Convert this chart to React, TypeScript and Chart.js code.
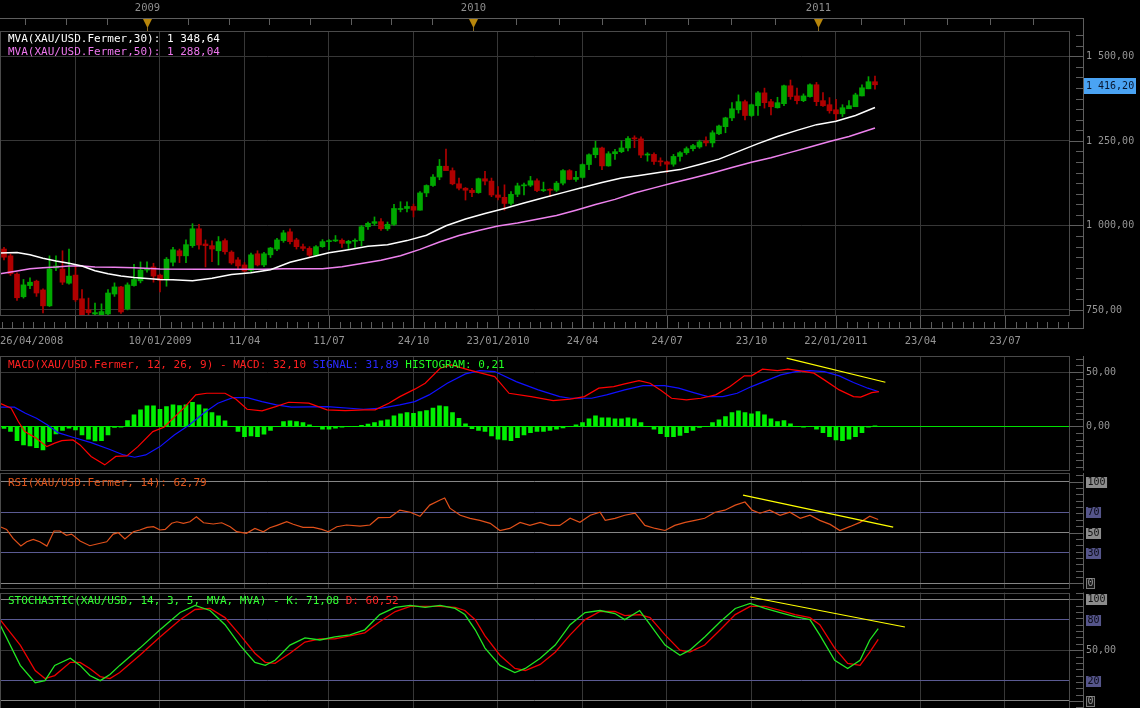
import React, { useEffect, useRef } from "react";
import { Chart, registerables } from "chart.js";

Chart.register(...registerables);

// ---------------- DATA (weekly XAU/USD candles, index 0 = first visible week) ----------------
const OPEN = [930,910,856,789,822,835,809,762,874,871,829,853,783,750,738,736,738,797,818,753,822,836,868,877,853,841,891,925,910,940,990,945,940,925,955,921,898,883,867,916,883,913,930,955,981,957,937,932,912,937,952,954,956,947,953,955,996,1006,1011,990,1003,1047,1050,1056,1045,1096,1118,1143,1175,1162,1123,1110,1104,1097,1138,1131,1090,1083,1065,1092,1117,1119,1132,1103,1105,1104,1125,1162,1136,1142,1180,1209,1229,1176,1212,1218,1229,1257,1256,1208,1210,1189,1188,1181,1204,1215,1227,1232,1250,1244,1271,1292,1318,1342,1366,1325,1354,1392,1366,1348,1360,1413,1383,1369,1381,1416,1369,1357,1342,1330,1345,1351,1383,1404,1425];
const HIGH = [935,915,860,840,845,838,812,910,910,925,930,880,810,785,770,768,810,830,820,830,885,892,892,888,856,905,935,930,957,1005,1003,957,954,967,960,925,905,890,918,925,920,935,962,985,990,962,945,937,940,958,958,970,960,956,960,1000,1010,1025,1020,1010,1062,1070,1070,1063,1100,1120,1150,1195,1226,1170,1140,1112,1110,1140,1160,1140,1115,1120,1100,1125,1125,1145,1138,1128,1108,1130,1165,1165,1160,1182,1212,1249,1232,1218,1225,1250,1263,1265,1262,1215,1215,1200,1190,1210,1218,1232,1240,1252,1262,1280,1297,1320,1363,1386,1371,1359,1396,1406,1373,1379,1415,1430,1406,1389,1419,1423,1393,1378,1373,1357,1369,1391,1416,1440,1442];
const LOW = [898,852,778,785,813,790,741,760,866,825,826,775,733,735,735,734,733,790,740,750,820,830,862,832,803,820,880,890,890,935,930,877,893,883,915,885,870,862,862,880,878,905,925,950,945,930,925,905,910,935,928,952,935,930,935,940,988,1000,985,985,1000,1040,1040,1025,1045,1085,1115,1135,1170,1120,1105,1075,1085,1095,1120,1085,1075,1045,1060,1085,1090,1115,1100,1100,1085,1100,1120,1135,1130,1140,1165,1200,1165,1175,1195,1215,1220,1230,1200,1190,1180,1176,1157,1175,1190,1210,1220,1228,1235,1232,1268,1274,1310,1332,1312,1322,1325,1347,1327,1347,1354,1373,1359,1366,1379,1354,1352,1332,1312,1322,1345,1352,1383,1404,1403];
const CLOSE = [906,857,786,824,832,800,762,871,880,832,850,780,735,742,742,745,800,818,744,824,840,868,872,850,838,900,928,910,943,990,942,940,930,952,922,889,880,865,913,883,916,933,957,978,952,937,932,912,937,952,954,956,947,953,955,996,1006,1011,990,1003,1050,1050,1056,1045,1096,1118,1143,1175,1162,1123,1110,1104,1097,1138,1131,1090,1083,1065,1092,1117,1119,1132,1103,1105,1104,1125,1162,1136,1142,1180,1209,1229,1176,1212,1218,1229,1257,1256,1208,1210,1189,1188,1181,1204,1215,1227,1236,1247,1244,1274,1294,1318,1345,1366,1325,1357,1392,1363,1351,1363,1413,1381,1369,1383,1416,1366,1354,1339,1330,1348,1354,1386,1407,1425,1416];

// moving averages: [week index, value]
const MVA30: number[][] = [[-0.6,918],[2,920],[4,913],[6,903],[8,895],[10,888],[12,880],[14,866],[16,857],[18,850],[20,846],[22,843],[24,840],[26,839],[29,836],[32,844],[35,855],[38,860],[41,869],[44,891],[47,905],[50,919],[53,928],[56,938],[59,943],[62,955],[65,971],[68,999],[71,1019],[74,1035],[77,1050],[80,1066],[83,1082],[86,1097],[89,1112],[92,1127],[95,1140],[98,1148],[101,1157],[104,1165],[107,1180],[110,1196],[113,1219],[116,1242],[119,1263],[122,1281],[125,1298],[128,1308],[131,1325],[134,1348.6]];
const MVA50: number[][] = [[-0.6,857],[2,865],[4,872],[6,875],[8,877],[10,880],[12,880],[14,877],[17,876],[20,875],[24,871],[30,870],[36,870],[40,870],[43,872],[46,872],[49,872],[52,878],[55,887],[58,897],[61,910],[64,929],[67,951],[70,970],[73,985],[76,998],[79,1007],[82,1018],[85,1029],[88,1045],[91,1062],[94,1077],[97,1096],[100,1111],[103,1126],[106,1140],[109,1155],[112,1171],[115,1187],[118,1200],[121,1216],[124,1232],[127,1248],[130,1263],[134,1288]];

// MACD panel
const MACD_LINE: number[][] = [[-0.6,21.2],[1.1,16.6],[2.2,4.3],[3.2,-5],[4.9,-11],[6.6,-18.9],[7.8,-15.7],[8.9,-13.3],[10.6,-12.7],[11.7,-17.3],[13.4,-28],[15.5,-35.8],[17.2,-28],[18.9,-27.5],[20.6,-18.9],[22.9,-5],[24.6,-1],[26.3,8.9],[27.8,17.6],[29.5,29],[31.2,30.5],[34,30.5],[35.7,25],[37.4,15.7],[39.7,14.2],[41.8,18.1],[43.8,22.2],[46.9,21.3],[49.7,15.1],[52.5,14.4],[55.4,15.1],[57.1,15.1],[59.2,21.3],[60.9,27.4],[63.2,34.3],[64.8,39.8],[67.1,53.7],[68.8,56.8],[71.5,52.1],[75.5,45.9],[77.7,30.5],[81.1,27.4],[84.5,23.7],[87.1,25],[89.3,27.4],[91.5,35.2],[93.8,36.7],[95.5,39.2],[97.7,42.2],[99.4,39.8],[101.1,33],[102.7,25.9],[105,24.4],[107.2,25.9],[109.5,29],[111.7,36.7],[113.9,46.6],[115,46.6],[116.7,52.8],[119,51.5],[120.6,52.8],[122.3,51.5],[124.6,49.1],[126.2,42.9],[128.5,33.6],[130.7,27.4],[131.8,26.9],[133.5,31.1],[134.6,32.1]];
const SIGNAL_LINE: number[][] = [[-0.6,17.6],[1.6,17.6],[3.3,12],[5,7.4],[6.7,1.2],[8.3,-5.9],[10.6,-10.2],[13.4,-15.2],[16.2,-21.3],[18.4,-26.6],[20.1,-28.7],[21.8,-26.6],[24,-18.9],[26.2,-8.1],[28.5,1.2],[30.7,12],[32.9,21.3],[35.2,26.5],[37.4,26.5],[39.7,22.8],[41.9,19.7],[44.2,17.6],[49.7,18.1],[55.3,15.7],[58.1,16.7],[60.9,19.7],[63.2,22.8],[65.4,29],[68.2,39.8],[71,48.4],[73.2,51.5],[75.5,50.6],[78.8,41.3],[82.2,33.6],[85.5,27.4],[87.1,25.9],[90.4,25.9],[92.7,29],[95.5,33.6],[98.3,37.6],[101.6,37.6],[103.8,35.2],[106.1,31.1],[108.3,27.4],[110.6,27.4],[112.8,30.5],[115,36.7],[117.3,42.2],[119.5,47.5],[121.8,50.6],[124,51.5],[126.2,50.6],[128.5,46.6],[130.7,40.4],[132.9,35.2],[134.6,31.9]];
const HISTOGRAM = [-2,-4.9,-13.3,-17.3,-18.2,-19.8,-21.9,-14.2,-7.1,-4,-1.9,-3.4,-8,-12,-13.6,-13.3,-8,-1.2,-0.9,5.2,10.5,15.1,18.8,18.8,15.7,18.2,19.8,19.1,19.8,22.2,19.8,16,12.7,9.6,4.9,0,-4.9,-9.6,-9,-9.6,-7.4,-4,-0.5,4.3,4.9,4.3,3.4,1.2,0,-2.8,-2.8,-1.9,-0.9,-0.5,-0.3,0.8,2,3.4,4.9,5.9,9.6,11.4,12.7,12,13.6,14.5,16.7,18.8,18.2,12.7,7.4,2.2,-2.2,-4,-4.9,-9,-12,-12.7,-13.3,-10.5,-8,-5.9,-4.9,-4.9,-4,-2.8,-1.5,-0.5,1.2,3.4,6.8,9.6,7.7,7.7,6.8,6.8,7.7,6.8,3.4,0,-2.8,-6.8,-9.6,-9.6,-8.6,-5.9,-4,-1.2,0,3.4,5.9,9,12.7,14.2,12.7,11.4,13.6,10.5,6.8,4.3,5.2,2.2,0,-0.9,0,-2.8,-5.9,-9.6,-12.7,-13.3,-12,-9.6,-5.9,-0.9,0.21];

// RSI panel
const RSI_LINE: number[][] = [[-0.6,55.7],[0.4,53.1],[1.4,44.3],[2.6,36.7],[3.5,40.9],[4.5,43.3],[5.5,40.9],[6.6,36.7],[7.7,51.5],[8.6,51.5],[9.6,47.2],[10.4,48.5],[11.7,41.6],[13.2,37],[14.8,39.4],[15.8,40.9],[16.8,48.5],[17.6,49.8],[18.6,43.6],[19.9,50.8],[20.9,52.5],[22,55.1],[23,55.7],[24,52.5],[24.8,53.1],[25.8,59.1],[26.6,60.6],[27.6,59.1],[28.6,60.6],[29.6,65.6],[30.7,59.6],[32.2,58.4],[33.5,59.6],[34.8,55.7],[35.8,50.8],[37.3,49.2],[38.6,54.1],[39.9,50.8],[40.9,54.7],[42,57.1],[43.5,60.6],[44.5,58.1],[46,55.1],[47.6,55.1],[48.9,53.1],[49.9,50.8],[51.2,55.7],[52.7,57.4],[54.8,56.4],[56.3,57.4],[57.6,64.6],[59.4,65],[60.9,72.1],[62.5,70],[64,66],[65.5,77],[67.1,82],[67.8,84],[68.6,74],[70.2,67],[71.7,64],[73.2,62],[74.8,59],[76.3,52],[77.8,54],[79.4,60],[80.9,57],[82.5,60],[84,57],[85.5,57],[87.1,64],[88.6,60],[90.2,67],[91.7,70],[92.5,62],[94,64],[95.5,67],[97.1,69],[98.6,57],[100.2,54],[101.7,52],[103.2,57],[104.8,60],[106.3,62],[107.8,64],[109.4,70],[110.9,72],[112.5,77],[114,80],[115.1,72],[116.3,69],[117.8,72],[119.4,67],[120.9,70],[122.5,64],[124,67],[125.5,62],[127.1,58],[128.6,52],[130.2,56],[131.7,60],[133.2,66],[134.5,62.8]];

// Stochastic panel
const STOCH_K: number[][] = [[-0.6,75],[2.5,35],[4.8,18],[6.3,20],[7.8,35],[10.2,42],[11.7,35],[13.2,25],[14.8,20],[16.3,26],[17.8,35],[20.9,52],[24,70],[27.1,87],[29.4,94],[31.7,89],[34,75],[36.3,55],[38.6,38],[40.2,35],[41.7,40],[44,55],[46.3,62],[48.6,60],[50.9,63],[53.2,65],[55.5,70],[57.8,85],[60.2,92],[62.5,94],[64.8,92],[67.1,94],[69.4,91],[70.9,85],[72.5,70],[74,52],[76.3,35],[78.6,28],[80.2,32],[82.5,42],[84.8,55],[87.1,75],[89.4,87],[91.7,89],[94,86],[95.5,80],[97.8,89],[99.4,75],[101.7,55],[104,45],[105.5,50],[107.8,63],[110.2,78],[112.5,91],[114.8,96],[117.1,91],[119.4,87],[121.7,83],[124,80],[125.5,65],[127.8,40],[129.8,32],[131.7,40],[133.2,60],[134.5,71.08]];
const STOCH_D: number[][] = [[-0.6,80],[2.5,55],[4.8,30],[6.3,22],[7.8,25],[10.2,38],[11.7,38],[13.2,32],[14.8,24],[16.3,22],[17.8,28],[20.9,45],[24,63],[27.1,80],[29.4,90],[31.7,91],[34,82],[36.3,65],[38.6,47],[40.2,38],[41.7,37],[44,47],[46.3,58],[48.6,61],[50.9,61],[53.2,64],[55.5,67],[57.8,78],[60.2,88],[62.5,93],[64.8,93],[67.1,93],[69.4,92],[70.9,89],[72.5,80],[74,64],[76.3,45],[78.6,32],[80.2,30],[82.5,36],[84.8,48],[87.1,65],[89.4,80],[91.7,88],[94,88],[95.5,84],[97.8,85],[99.4,82],[101.7,65],[104,50],[105.5,48],[107.8,55],[110.2,70],[112.5,85],[114.8,93],[117.1,93],[119.4,89],[121.7,85],[124,82],[125.5,75],[127.8,52],[129.8,37],[131.7,35],[133.2,48],[134.5,60.52]];

// hand-drawn trend lines
const TREND_MACD: number[][] = [[120.4, 63], [135.6, 40.7]];
const TREND_RSI: number[][] = [[113.7, 86.9], [136.8, 55.4]];
const TREND_STOCH: number[][] = [[114.8, 102.3], [138.6, 72.8]];

// axis ticks / labels
const X_TICK_IDX = [11, 24, 37, 50, 63, 76, 89, 102, 115, 128, 141, 154];
const X_TICK_LABELS = ["", "10/01/2009", "11/04", "11/07", "24/10", "23/01/2010", "24/04", "24/07", "23/10", "22/01/2011", "23/04", "23/07"];
const FIRST_DATE_LABEL = "26/04/2008";
const YEAR_LABELS = ["2009", "2010", "2011"];
const YEAR_IDX = [22.05, 72.1, 125.2];
const PRICE_TICKS = [750, 1000, 1250, 1500];
const MACD_TICKS = [0, 50];
const RSI_LEVELS = [0, 30, 50, 70, 100];
const STOCH_LEVELS = [0, 20, 50, 80, 100];
const LAST_PRICE = 1416.2;

const LEGEND_MVA30 = "MVA(XAU/USD.Fermer,30): 1 348,64";
const LEGEND_MVA50 = "MVA(XAU/USD.Fermer,50): 1 288,04";
const LEGEND_MACD = ["MACD(XAU/USD.Fermer, 12, 26, 9) - MACD: 32,10", "SIGNAL: 31,89", "HISTOGRAM: 0,21"];
const LEGEND_RSI = "RSI(XAU/USD.Fermer, 14): 62,79";
const LEGEND_STOCH = ["STOCHASTIC(XAU/USD, 14, 3, 5, MVA, MVA) - K: 71,08", "D: 60,52"];

// ---------------- STYLE ----------------
const X_MIN = -0.615;
const X_MAX = 163.85;
const FONT = '"DejaVu Sans Mono", "Liberation Mono", monospace';
const GRID = "#373737";
const FRAME = "#4a4a4a";
const AXIS = "#5e5e5e";
const TXT = "#959595";
const UP = "#00a800";
const DOWN = "#b00000";
const VIOLET = "#ee82ee";
const LEVEL_LIGHT = "#858585";
const LEVEL_PURPLE = "#5a5a92";

function fmt(v: number): string {
  const s = Math.abs(v).toFixed(2);
  const [i, d] = s.split(".");
  return (v < 0 ? "-" : "") + i.replace(/\B(?=(\d{3})+(?!\d))/g, " ") + "," + d;
}

function hline(ctx: CanvasRenderingContext2D, x1: number, x2: number, y: number, c: string) {
  const yy = Math.round(y) + 0.5;
  ctx.strokeStyle = c; ctx.lineWidth = 1;
  ctx.beginPath(); ctx.moveTo(x1, yy); ctx.lineTo(x2, yy); ctx.stroke();
}
function vline(ctx: CanvasRenderingContext2D, x: number, y1: number, y2: number, c: string) {
  const xx = Math.round(x) + 0.5;
  ctx.strokeStyle = c; ctx.lineWidth = 1;
  ctx.beginPath(); ctx.moveTo(xx, y1); ctx.lineTo(xx, y2); ctx.stroke();
}
function text(ctx: CanvasRenderingContext2D, s: string, x: number, y: number, c: string, size = 11, align: CanvasTextAlign = "left") {
  ctx.font = `${size}px ${FONT}`;
  ctx.fillStyle = c; ctx.textAlign = align; ctx.textBaseline = "middle";
  ctx.fillText(s, x, y);
}
function frame(chart: any) {
  const ctx = chart.ctx; const a = chart.chartArea;
  ctx.strokeStyle = FRAME; ctx.lineWidth = 1;
  ctx.strokeRect(0.5, Math.round(a.top) + 0.5, Math.round(a.right), Math.round(a.bottom - a.top) - 1);
}
function rightAxis(chart: any, y1: number, y2: number, majors: number[], minorStep: number) {
  const ctx = chart.ctx; const ys = chart.scales.y;
  vline(ctx, 1083, y1, y2, AXIS);
  const start = Math.ceil(ys.min / minorStep) * minorStep;
  for (let v = start; v <= ys.max + 1e-9; v += minorStep) {
    const py = ys.getPixelForValue(v);
    if (py < y1 || py > y2) continue;
    const major = majors.some((m) => Math.abs(m - v) < 1e-6);
    hline(ctx, major ? 1069 : 1076, 1084, py, AXIS);
  }
}
function levelBox(ctx: CanvasRenderingContext2D, s: string, y: number, bg: string | null, fg: string, outline = false) {
  ctx.font = `10px ${FONT}`;
  const w = ctx.measureText(s).width + 3;
  const x = 1086;
  if (bg) { ctx.fillStyle = bg; ctx.fillRect(x, Math.round(y) - 5, w, 11); }
  if (outline) { ctx.strokeStyle = "#7a7a7a"; ctx.lineWidth = 1; ctx.strokeRect(x + 0.5, Math.round(y) - 4.5, w - 1, 10); }
  text(ctx, s, x + 1.5, Math.round(y) + 0.5, fg, 10);
}
const pts = (arr: number[][]) => arr.map(([x, y]) => ({ x, y }));

function buildConfig(o: any): any {
  return {
    type: "bar",
    data: { datasets: o.datasets },
    options: {
      animation: false,
      responsive: false,
      events: [],
      layout: { padding: { top: o.padTop, bottom: o.padBottom, left: 0, right: 0 } },
      plugins: { legend: { display: false }, tooltip: { enabled: false } },
      scales: {
        x: {
          type: "linear", min: X_MIN, max: X_MAX, offset: false,
          afterBuildTicks: (s: any) => { s.ticks = X_TICK_IDX.map((v) => ({ value: v })); },
          afterFit: (s: any) => { s.height = 0; },
          ticks: { display: false },
          grid: { color: GRID, drawTicks: false, offset: false },
          border: { display: false },
        },
        y: {
          type: "linear", position: "right", min: o.yMin, max: o.yMax,
          afterBuildTicks: (s: any) => { s.ticks = o.yTicks.map((v: number) => ({ value: v })); },
          afterFit: (s: any) => { s.width = 71; },
          ticks: { display: false },
          grid: { color: o.gridColor, drawTicks: false },
          border: { display: false },
        },
      },
    },
    plugins: [o.deco],
  };
}

const candleColor = (c: any) => (CLOSE[c.dataIndex] >= OPEN[c.dataIndex] ? UP : DOWN);

function mainConfig() {
  const deco = {
    id: "mainDeco",
    afterDraw(chart: any) {
      const ctx = chart.ctx; const a = chart.chartArea; const xs = chart.scales.x; const ys = chart.scales.y;
      ctx.save();
      frame(chart);
      // top strip with year markers
      hline(ctx, 0, 1084, 18, AXIS);
      const strip: number[] = [];
      const d0 = (YEAR_IDX[1] - YEAR_IDX[0]) / 8;
      for (let k = 1; k <= 4; k++) strip.push(YEAR_IDX[0] - k * d0);
      for (let s = 0; s < YEAR_IDX.length - 1; s++) {
        const d = (YEAR_IDX[s + 1] - YEAR_IDX[s]) / 8;
        for (let k = 0; k < 8; k++) strip.push(YEAR_IDX[s] + k * d);
      }
      const dl = (YEAR_IDX[2] - YEAR_IDX[1]) / 8;
      for (let k = 0; k <= 7; k++) strip.push(YEAR_IDX[2] + k * dl);
      strip.forEach((t) => {
        const px = xs.getPixelForValue(t);
        if (px >= 0 && px <= 1070) vline(ctx, px, 18, 25, AXIS);
      });
      YEAR_IDX.forEach((idx, k) => {
        const px = Math.round(xs.getPixelForValue(idx)) + 0.5;
        ctx.fillStyle = "#b8860b";
        ctx.beginPath(); ctx.moveTo(px - 4.5, 19); ctx.lineTo(px + 4.5, 19); ctx.lineTo(px, 28); ctx.closePath(); ctx.fill();
        vline(ctx, px - 0.5, 27, 31, "#8a6a20");
        text(ctx, YEAR_LABELS[k], px, 8.5, "#8e8e8e", 10.5, "center");
      });
      // right axis
      rightAxis(chart, 18, 329, PRICE_TICKS, 31.25);
      PRICE_TICKS.forEach((v) => text(ctx, fmt(v), 1086, Math.round(ys.getPixelForValue(v)) + 0.5, TXT, 10));
      // last price box
      const py = ys.getPixelForValue(LAST_PRICE);
      ctx.fillStyle = "#4aa3f3";
      ctx.fillRect(1084, Math.round(py) - 7, 52, 16);
      text(ctx, fmt(LAST_PRICE), 1086, Math.round(py) + 1, "#08162e", 10);
      // bottom time strip
      hline(ctx, 0, 1084, 328, AXIS);
      const bottom = Math.round(a.bottom);
      X_TICK_IDX.forEach((t) => vline(ctx, xs.getPixelForValue(t), bottom, 328, AXIS));
      for (let t = X_TICK_IDX[0] - 13; t < X_MAX; t += 13 / 8) {
        const px = xs.getPixelForValue(t);
        if (px >= 0 && px <= 1069) vline(ctx, px, 322, 328, AXIS);
      }
      text(ctx, FIRST_DATE_LABEL, 0, 341, TXT, 10.5);
      X_TICK_IDX.forEach((t, k) => {
        if (X_TICK_LABELS[k]) text(ctx, X_TICK_LABELS[k], xs.getPixelForValue(t), 341, TXT, 10.5, "center");
      });
      // legend
      text(ctx, LEGEND_MVA30, 8, 39, "#ffffff");
      text(ctx, LEGEND_MVA50, 8, 52, "#ee77ee");
      ctx.restore();
    },
  };
  return buildConfig({
    padTop: 31, padBottom: 36, yMin: 732, yMax: 1575, yTicks: PRICE_TICKS, gridColor: GRID, deco,
    datasets: [
      { type: "line", data: pts(MVA30), borderColor: "#ffffff", borderWidth: 1.5, pointRadius: 0, order: 0 },
      { type: "line", data: pts(MVA50), borderColor: VIOLET, borderWidth: 1.5, pointRadius: 0, order: 0 },
      { type: "bar", data: OPEN.map((o, i) => ({ x: i, y: [o, CLOSE[i]] })), backgroundColor: candleColor, barThickness: 5, grouped: false, minBarLength: 1, order: 1 },
      { type: "bar", data: LOW.map((l, i) => ({ x: i, y: [l, HIGH[i]] })), backgroundColor: candleColor, barThickness: 1, grouped: false, order: 2 },
    ],
  });
}

function macdConfig() {
  const deco = {
    id: "macdDeco",
    beforeDatasetsDraw(chart: any) {
      const ys = chart.scales.y;
      hline(chart.ctx, 0, 1069, ys.getPixelForValue(0), "#00e000");
    },
    afterDraw(chart: any) {
      const ctx = chart.ctx; const a = chart.chartArea; const ys = chart.scales.y;
      ctx.save();
      frame(chart);
      rightAxis(chart, a.top, a.bottom, MACD_TICKS, 6.25);
      MACD_TICKS.forEach((v) => text(ctx, fmt(v), 1086, Math.round(ys.getPixelForValue(v)) + 0.5, TXT, 10));
      ctx.font = `11px ${FONT}`;
      let x = 8;
      const cols = ["#ff2020", "#2a2aff", "#22ff22"];
      LEGEND_MACD.forEach((s, k) => {
        text(ctx, s, x, a.top + 9.5, cols[k]);
        ctx.font = `11px ${FONT}`;
        x += ctx.measureText(s + " ").width;
      });
      ctx.restore();
    },
  };
  return buildConfig({
    padTop: 4, padBottom: 1.5, yMin: -41, yMax: 65, yTicks: MACD_TICKS, gridColor: GRID, deco,
    datasets: [
      { type: "line", data: pts(TREND_MACD), borderColor: "#ffff00", borderWidth: 1.2, pointRadius: 0, order: 0 },
      { type: "line", data: pts(MACD_LINE), borderColor: "#ff0000", borderWidth: 1.2, pointRadius: 0, order: 0 },
      { type: "line", data: pts(SIGNAL_LINE), borderColor: "#1010ff", borderWidth: 1.2, pointRadius: 0, order: 0 },
      { type: "bar", data: HISTOGRAM.map((v, i) => ({ x: i, y: v })), backgroundColor: "#00f000", barThickness: 4, grouped: false, order: 1 },
    ],
  });
}

function rsiConfig() {
  const deco = {
    id: "rsiDeco",
    afterDraw(chart: any) {
      const ctx = chart.ctx; const a = chart.chartArea; const ys = chart.scales.y;
      ctx.save();
      frame(chart);
      rightAxis(chart, a.top, a.bottom, RSI_LEVELS, 6.25);
      levelBox(ctx, "100", ys.getPixelForValue(100), "#8c8c8c", "#111111");
      levelBox(ctx, "70", ys.getPixelForValue(70), "#55558a", "#0a0a14");
      levelBox(ctx, "50", ys.getPixelForValue(50), "#8c8c8c", "#111111");
      levelBox(ctx, "30", ys.getPixelForValue(30), "#55558a", "#0a0a14");
      levelBox(ctx, "0", ys.getPixelForValue(0), "#151515", "#9a9a9a", true);
      text(ctx, LEGEND_RSI, 8, a.top + 10.5, "#e0561c");
      ctx.restore();
    },
  };
  return buildConfig({
    padTop: 1, padBottom: 1, yMin: -5.6, yMax: 108.6, yTicks: RSI_LEVELS, deco,
    gridColor: (c: any) => { const v = c.tick && c.tick.value; return v === 70 || v === 30 ? LEVEL_PURPLE : LEVEL_LIGHT; },
    datasets: [
      { type: "line", data: pts(TREND_RSI), borderColor: "#ffff00", borderWidth: 1.2, pointRadius: 0, order: 0 },
      { type: "line", data: pts(RSI_LINE), borderColor: "#e0501a", borderWidth: 1.2, pointRadius: 0, order: 0 },
    ],
  });
}

function stochConfig() {
  const deco = {
    id: "stochDeco",
    afterDraw(chart: any) {
      const ctx = chart.ctx; const a = chart.chartArea; const ys = chart.scales.y;
      ctx.save();
      frame(chart);
      rightAxis(chart, a.top, a.bottom, STOCH_LEVELS, 6.25);
      levelBox(ctx, "100", ys.getPixelForValue(100), "#8c8c8c", "#111111");
      levelBox(ctx, "80", ys.getPixelForValue(80), "#55558a", "#0a0a14");
      text(ctx, fmt(50), 1086, Math.round(ys.getPixelForValue(50)) + 0.5, TXT, 10);
      levelBox(ctx, "20", ys.getPixelForValue(20), "#55558a", "#0a0a14");
      levelBox(ctx, "0", ys.getPixelForValue(0), "#151515", "#9a9a9a", true);
      text(ctx, LEGEND_STOCH[0], 8, a.top + 8.5, "#33ff33");
      ctx.font = `11px ${FONT}`;
      const w = ctx.measureText(LEGEND_STOCH[0] + " ").width;
      text(ctx, LEGEND_STOCH[1], 8 + w, a.top + 8.5, "#ff2424");
      ctx.restore();
    },
  };
  return buildConfig({
    padTop: 2.5, padBottom: 0, yMin: -6.9, yMax: 106.7, yTicks: STOCH_LEVELS, deco,
    gridColor: (c: any) => { const v = c.tick && c.tick.value; return v === 80 || v === 20 ? LEVEL_PURPLE : v === 50 ? GRID : LEVEL_LIGHT; },
    datasets: [
      { type: "line", data: pts(TREND_STOCH), borderColor: "#ffff00", borderWidth: 1.2, pointRadius: 0, order: 0 },
      { type: "line", data: pts(STOCH_K), borderColor: "#22e622", borderWidth: 1.3, pointRadius: 0, order: 0 },
      { type: "line", data: pts(STOCH_D), borderColor: "#ee0000", borderWidth: 1.3, pointRadius: 0, order: 1 },
    ],
  });
}

export default function App() {
  const r1 = useRef<HTMLCanvasElement>(null);
  const r2 = useRef<HTMLCanvasElement>(null);
  const r3 = useRef<HTMLCanvasElement>(null);
  const r4 = useRef<HTMLCanvasElement>(null);

  useEffect(() => {
    document.body.style.margin = "0";
    document.body.style.background = "#000";
    const charts = [
      new Chart(r1.current as HTMLCanvasElement, mainConfig()),
      new Chart(r2.current as HTMLCanvasElement, macdConfig()),
      new Chart(r3.current as HTMLCanvasElement, rsiConfig()),
      new Chart(r4.current as HTMLCanvasElement, stochConfig()),
    ];
    return () => charts.forEach((c) => c.destroy());
  }, []);

  const cs = (top: number): React.CSSProperties => ({ position: "absolute", left: 0, top, display: "block" });
  return (
    <div style={{ position: "fixed", left: 0, top: 0, width: 1140, height: 708, background: "#000", overflow: "hidden" }}>
      <canvas ref={r1} width={1140} height={352} style={cs(0)} />
      <canvas ref={r2} width={1140} height={120} style={cs(352)} />
      <canvas ref={r3} width={1140} height={118} style={cs(472)} />
      <canvas ref={r4} width={1140} height={118} style={cs(590)} />
    </div>
  );
}
